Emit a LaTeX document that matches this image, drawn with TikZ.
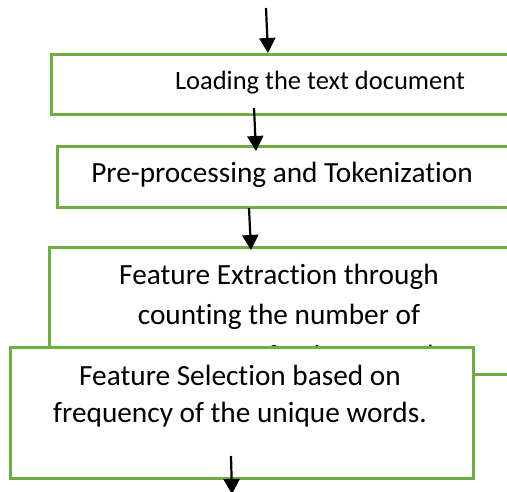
\documentclass[tikz,border=0pt]{standalone}
\usepackage{fontspec}
\setmainfont{Carlito}[RawFeature={-liga}]
\usetikzlibrary{arrows.meta}
\definecolor{boxgreen}{RGB}{112,173,71}
\tikzset{
  box/.style={draw=boxgreen, line width=2.6pt, fill=white, rectangle, inner sep=0pt, anchor=north west},
  arr/.style={draw=black, line width=2.2pt, -{Triangle[length=15pt,width=16pt]}},
  big/.style={font=\fontsize{29.3}{40}\selectfont, anchor=base, inner sep=0pt},
  small/.style={font=\fontsize{26.5}{36}\selectfont, anchor=base, inner sep=0pt}
}
\begin{document}
\begin{tikzpicture}[x=1pt,y=-1pt]
\useasboundingbox (0,0) rectangle (507,492);
\clip (0,0) rectangle (507,492);
\fill[white] (0,0) rectangle (507,492);
% box 1
\node[box, minimum width=465pt, minimum height=60pt] (b1) at (50,53) {};
\node[small] (t1) at (320,90) {Loading the text document};
% box 2
\node[box, minimum width=460pt, minimum height=61pt] (b2) at (56,145) {};
\node[big] (t2) at (282,183) {Pre-processing and Tokenization};
% box 3
\node[box, minimum width=470pt, minimum height=127pt] (b3) at (48,246) {};
\node[big] (t3a) at (279,285) {Feature Extraction through};
\node[big] (t3b) at (279,325) {counting the number of};
\begin{scope}
\clip (48,300) rectangle (507,346);
\node[big] (t3c) at (279,366) {occurrence of unique words};
\end{scope}
% box 4
\node[box, minimum width=463pt, minimum height=131pt] (b4) at (9,346) {};
\node[big] (t4a) at (240,385) {Feature Selection based on};
\node[big] (t4b) at (240,423) {frequency of the unique words.};
% arrows
\coordinate (a1s) at (266,8);
\coordinate (a1e) at (268,53);
\coordinate (a2s) at (254,108);
\coordinate (a2e) at (256,151);
\coordinate (a3s) at (249,208);
\coordinate (a3e) at (251,250);
\coordinate (a4s) at (231,456);
\coordinate (a4e) at (232,494);
\draw[arr] (a1s) -- (a1e);
\draw[arr] (a2s) -- (a2e);
\draw[arr] (a3s) -- (a3e);
\draw[arr] (a4s) -- (a4e);
\end{tikzpicture}
\end{document}
